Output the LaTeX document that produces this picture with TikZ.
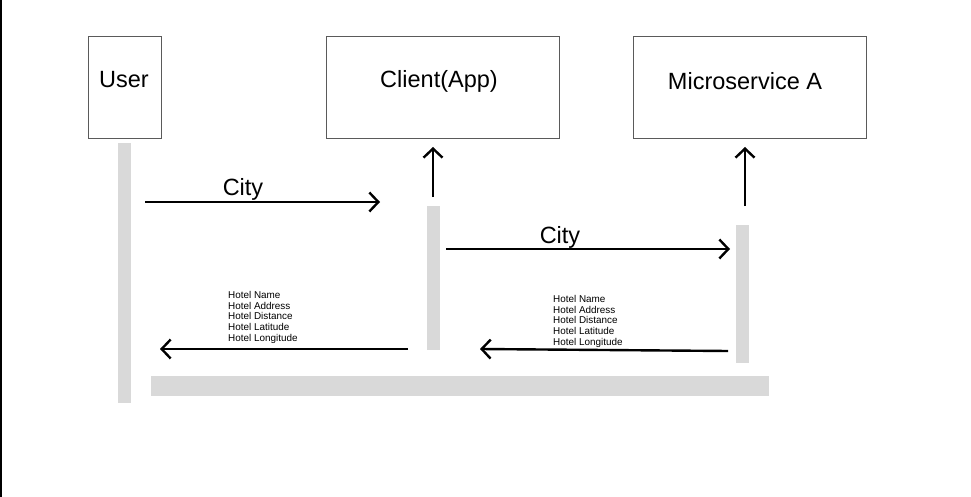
\documentclass[tikz,border=0pt]{standalone}
\usepackage{fontspec}
\setmainfont{Liberation Sans}
\usetikzlibrary{arrows.meta}
\definecolor{bargray}{HTML}{D9D9D9}
\definecolor{boxgray}{HTML}{5A5A5A}
\tikzset{
  actor/.style={draw=boxgray, line width=1pt, fill=white, inner sep=0pt, anchor=north west},
  lifebar/.style={fill=bargray, draw=none, inner sep=0pt, anchor=north west},
  big/.style={font=\fontsize{23.5}{27}\selectfont},
  small/.style={font=\fontsize{9.9}{10.8}\selectfont, align=left, inner sep=0pt, anchor=north west},
  msg/.style={line width=2.4pt, -{Straight Barb[length=9pt,width=19pt,line width=2.4pt]}},
}
\begin{document}
\begin{tikzpicture}[x=1pt,y=-1pt]
\useasboundingbox (0,0) rectangle (971,497);
\fill[white] (0,0) rectangle (971,497);
\draw[line width=1.6pt] (0.8,0) -- (0.8,497);
% actor boxes
\node[actor, minimum width=73pt, minimum height=102pt] (user) at (88,36) {};
\node[actor, minimum width=233pt, minimum height=102pt] (client) at (326,36) {};
\node[actor, minimum width=233pt, minimum height=102pt] (ms) at (633,36) {};
\node[big] (usert) at (124,80) {User};
\node[big] (clientt) at (439,81) {Client(App)};
\node[big] (mst) at (745,81) {Microservice A};
% lifelines
\node[lifebar, minimum width=13pt, minimum height=260pt] (ul) at (118,143) {};
\node[lifebar, minimum width=13pt, minimum height=144pt] (cl) at (427,206) {};
\node[lifebar, minimum width=13pt, minimum height=138pt] (ml) at (736,225) {};
\node[lifebar, minimum width=618pt, minimum height=20pt] (bottom) at (151,376) {};
% arrow end points
\coordinate (a1s) at (145,202); \coordinate (a1e) at (380,202);
\coordinate (u1s) at (433,197); \coordinate (u1e) at (433,147);
\coordinate (a2s) at (446,249); \coordinate (a2e) at (730,249);
\coordinate (u2s) at (745,206); \coordinate (u2e) at (745,147);
\coordinate (r1s) at (408,349); \coordinate (r1e) at (160,349);
\coordinate (r2s) at (728,351); \coordinate (r2e) at (480,349);
% messages
\draw[msg] (a1s) -- (a1e);
\draw[msg] (u1s) -- (u1e);
\draw[msg] (a2s) -- (a2e);
\draw[msg] (u2s) -- (u2e);
\draw[msg] (r1s) -- (r1e);
\draw[msg] (r2s) -- (r2e);
% labels
\node[big] (city1) at (243,189) {City};
\node[big] (city2) at (560,237) {City};
\node[small] (h1) at (228,291) {Hotel Name\\Hotel Address\\Hotel Distance\\Hotel Latitude\\Hotel Longitude};
\node[small] (h2) at (553,295) {Hotel Name\\Hotel Address\\Hotel Distance\\Hotel Latitude\\Hotel Longitude};
\end{tikzpicture}
\end{document}
